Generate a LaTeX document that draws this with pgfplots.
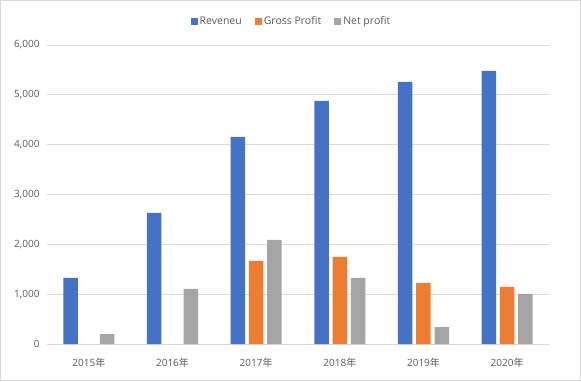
\documentclass[border=0pt]{standalone}
\usepackage{fontspec}
\setmainfont{Open Sans}
\newfontfamily\cjk{Noto Sans CJK JP}
\usepackage{pgfplots}
\pgfplotsset{compat=1.18}
\definecolor{cblue}{HTML}{4472C4}
\definecolor{corange}{HTML}{ED7D31}
\definecolor{cgray}{HTML}{A5A5A5}
\definecolor{gridc}{HTML}{D9D9D9}
\definecolor{txt}{HTML}{595959}
\begin{document}
\begin{tikzpicture}[x=1pt,y=1pt]
\useasboundingbox (0,0) rectangle (581,381);
\draw[gridc, line width=1pt] (0.5,0.5) rectangle (580.5,380.5);
\begin{axis}[
  at={(47pt,37pt)}, anchor=south west,
  scale only axis, width=502pt, height=299pt,
  xmin=-0.5, xmax=5.5, ymin=0, ymax=6000,
  ybar=3.8pt, bar width=14.5pt,
  axis line style={draw=none},
  tick style={draw=none},
  ymajorgrids, grid style={gridc, line width=0.8pt},
  xtick={0,1,2,3,4,5},
  xticklabels={2015{\cjk 年},2016{\cjk 年},2017{\cjk 年},2018{\cjk 年},2019{\cjk 年},2020{\cjk 年}},
  ytick={0,1000,2000,3000,4000,5000,6000},
  /pgf/number format/1000 sep={,},
  /pgf/number format/assume math mode=true,
  ticklabel style={font=\fontsize{10}{12}\selectfont, text=txt},
  yticklabel style={xshift=-4pt},
  xticklabel style={yshift=-6pt},
  legend style={at={(0.487,1)}, anchor=south, yshift=15pt, draw=none, fill=none,
    font=\fontsize{10.5}{12}\selectfont, text=txt,
    legend columns=3,
    /tikz/every even column/.append style={column sep=11pt}},
  legend image code/.code={\fill[#1, draw=none] (0pt,-3.5pt) rectangle (7pt,3.5pt);},
]
\addplot[fill=cblue, draw=none] coordinates {(0,1325) (1,2630) (2,4157) (3,4880) (4,5261) (5,5482)};
\addplot[fill=corange, draw=none] coordinates {(2,1667) (3,1747) (4,1225) (5,1145)};
\addplot[fill=cgray, draw=none] coordinates {(0,200) (1,1104) (2,2088) (3,1325) (4,341) (5,1004)};
\legend{Reveneu, Gross Profit, Net profit}
\end{axis}
\end{tikzpicture}
\end{document}
